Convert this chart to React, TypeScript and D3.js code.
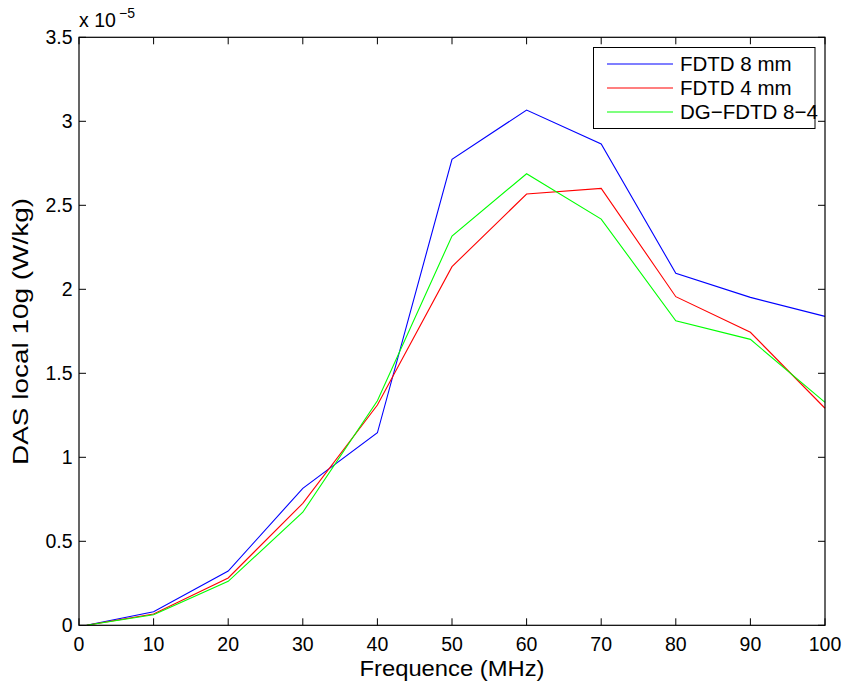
import React from "react";
import * as d3 from "d3";

const freqs = [1, 10, 20, 30, 40, 50, 60, 70, 80, 90, 100];
const fdtd8 = [0.0, 0.081, 0.323, 0.815, 1.146, 2.774, 3.067, 2.865, 2.095, 1.952, 1.839];
const fdtd4 = [0.0, 0.067, 0.282, 0.726, 1.311, 2.135, 2.567, 2.601, 1.956, 1.744, 1.292];
const dgfdtd = [0.0, 0.063, 0.262, 0.673, 1.337, 2.317, 2.688, 2.418, 1.813, 1.702, 1.327];
const seriesNames = ["FDTD 8 mm", "FDTD 4 mm", "DG\u2212FDTD 8\u22124"];
const seriesColors = ["#0000ff", "#ff0000", "#00ff00"];
const xTicks = [0, 10, 20, 30, 40, 50, 60, 70, 80, 90, 100];
const yTicks = [0, 0.5, 1, 1.5, 2, 2.5, 3, 3.5];
const yTickLabels = ["0", "0.5", "1", "1.5", "2", "2.5", "3", "3.5"];

const W = 845, H = 684;
const L = 79, R = 825, T = 37.3, B = 625.3;
const FONT = "'Liberation Sans', Arial, Helvetica, sans-serif";

export default function App() {
  const x = d3.scaleLinear().domain([0, 100]).range([L, R]);
  const y = d3.scaleLinear().domain([0, 3.5]).range([B, T]);
  const line = d3.line<[number, number]>().x(d => x(d[0])).y(d => y(d[1]));
  const all = [fdtd8, fdtd4, dgfdtd];
  const tl = 7;
  const legY = [64, 88, 112];
  return (
    <svg width={W} height={H} style={{ position: "absolute", left: 0, top: 0, background: "#fff" }} fontFamily={FONT}>
      <rect x={0} y={0} width={W} height={H} fill="#fff" />
      {all.map((s, i) => (
        <path key={i} d={line(freqs.map((f, j) => [f, s[j]] as [number, number])) || ""} fill="none" stroke={seriesColors[i]} strokeWidth={1.1} />
      ))}
      <rect x={L} y={T} width={R - L} height={B - T} fill="none" stroke="#000" strokeWidth={1.2} />
      {xTicks.map(t => (
        <g key={"x" + t}>
          <line x1={x(t)} x2={x(t)} y1={B} y2={B - tl} stroke="#000" strokeWidth={1} />
          <line x1={x(t)} x2={x(t)} y1={T} y2={T + tl} stroke="#000" strokeWidth={1} />
          <text x={x(t)} y={650.5} textAnchor="middle" fontSize={19.5}>{t}</text>
        </g>
      ))}
      {yTicks.map((t, i) => (
        <g key={"y" + t}>
          <line x1={L} x2={L + tl} y1={y(t)} y2={y(t)} stroke="#000" strokeWidth={1} />
          <line x1={R} x2={R - tl} y1={y(t)} y2={y(t)} stroke="#000" strokeWidth={1} />
          <text x={72.5} y={y(t) + 6.8} textAnchor="end" fontSize={19.5}>{yTickLabels[i]}</text>
        </g>
      ))}
      <text x={79} y={27.3} fontSize={19.5}>x 10</text>
      <text x={119} y={18} fontSize={14}>{"\u22125"}</text>
      <text x={(L + R) / 2} y={676} textAnchor="middle" fontSize={22} textLength={185} lengthAdjust="spacingAndGlyphs">Frequence (MHz)</text>
      <text transform={`translate(28,${331.5}) rotate(-90)`} textAnchor="middle" fontSize={21.5} textLength={267} lengthAdjust="spacingAndGlyphs">DAS local 10g (W/kg)</text>
      <rect x={593.5} y={47.5} width={221.5} height={81} fill="#fff" stroke="#000" strokeWidth={1} />
      {seriesNames.map((n, i) => (
        <g key={n}>
          <line x1={607} x2={673} y1={legY[i]} y2={legY[i]} stroke={seriesColors[i]} strokeWidth={1.1} />
          <text x={680} y={legY[i] + 7} fontSize={20.5}>{n}</text>
        </g>
      ))}
    </svg>
  );
}
